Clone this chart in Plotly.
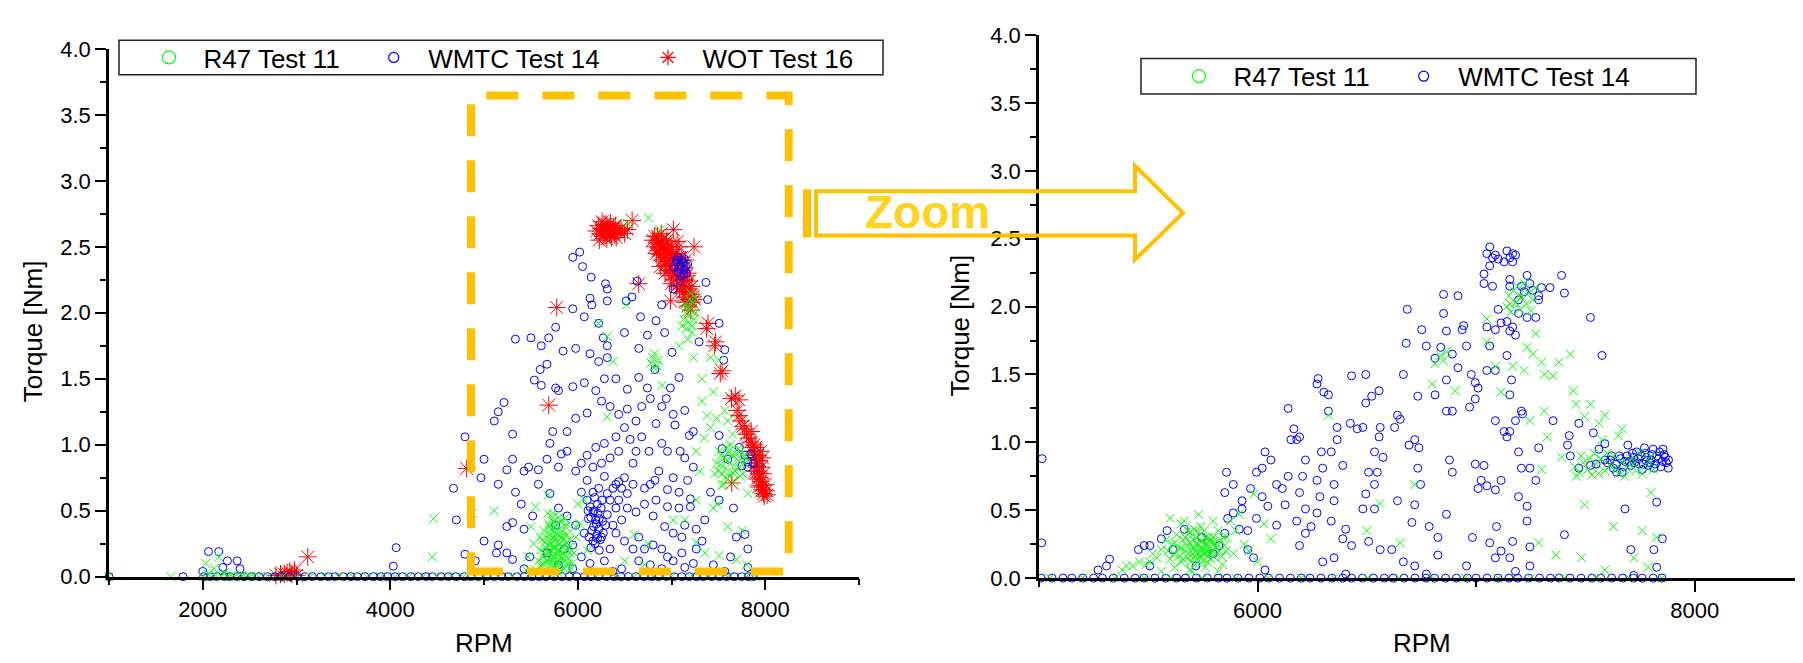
import plotly.graph_objects as go

W, H = 1803, 663
FONT = "Liberation Sans, Arial, sans-serif"

# ---------------- data: (RPM, Torque [Nm]) ----------------
left_wot = [
    (2780, 0.01), (2830, 0.02), (2870, 0.02), (2900, 0.03), (2930, 0.04), (2950, 0.02), (2980, 0.05), (3000, 0.01),
    (3120, 0.15), (4815, 0.82), (5690, 1.30), (5776, 2.04),
    (6200, 2.62), (6220, 2.66), (6240, 2.60), (6250, 2.64), (6270, 2.58), (6280, 2.67), (6300, 2.62), (6310, 2.56),
    (6320, 2.65), (6340, 2.60), (6350, 2.68), (6360, 2.57), (6370, 2.63), (6390, 2.59), (6400, 2.66), (6420, 2.61),
    (6230, 2.55), (6260, 2.69), (6290, 2.59), (6330, 2.63), (6380, 2.65), (6410, 2.57), (6440, 2.62), (6460, 2.64),
    (6300, 2.67), (6350, 2.61), (6270, 2.63), (6500, 2.60), (6530, 2.63), (6580, 2.70), (6650, 2.22),
    (6800, 2.55), (6820, 2.50), (6840, 2.53), (6860, 2.47), (6870, 2.52), (6880, 2.44), (6900, 2.49), (6910, 2.56),
    (6920, 2.42), (6930, 2.47), (6940, 2.52), (6950, 2.39), (6960, 2.45), (6970, 2.50), (6980, 2.36), (6990, 2.42),
    (7000, 2.48), (7010, 2.33), (7020, 2.63), (7030, 2.40), (7040, 2.30), (7050, 2.45), (7060, 2.27), (7070, 2.36),
    (7080, 2.50), (7090, 2.24), (7100, 2.32), (7110, 2.20), (7120, 2.28), (7130, 2.16), (7140, 2.25), (7150, 2.12),
    (7160, 2.20), (7170, 2.30), (7180, 2.10), (7190, 2.18), (7200, 2.14), (7220, 2.08), (6990, 2.09), (6850, 2.58),
    (6890, 2.60), (7060, 2.54), (7110, 2.42), (7240, 2.50), (7150, 2.40), (6950, 2.55), (7250, 2.10),
    (6820, 2.58), (6840, 2.45), (6860, 2.55), (6880, 2.50), (6900, 2.40), (6920, 2.52), (6935, 2.36), (6950, 2.48),
    (6965, 2.32), (6980, 2.46), (6995, 2.28), (7010, 2.44), (7025, 2.25), (7040, 2.40), (7055, 2.20), (7070, 2.42),
    (7085, 2.18), (7100, 2.38), (7115, 2.15), (7130, 2.34), (7145, 2.08), (7160, 2.28), (7175, 2.05), (7190, 2.24),
    (7205, 2.02), (7215, 2.20), (7230, 2.12), (6880, 2.35), (6930, 2.30), (7000, 2.22),
    (7374, 1.88), (7390, 1.92), (7460, 1.75), (7470, 1.78), (7520, 1.54), (7540, 1.56), (7640, 1.35), (7680, 1.37),
    (7720, 1.34), (7700, 1.26), (7720, 1.22), (7740, 1.18), (7760, 1.14), (7780, 1.12), (7800, 1.08), (7820, 1.05),
    (7840, 1.02), (7860, 0.98), (7870, 0.95), (7880, 0.92), (7890, 0.90), (7900, 0.86), (7910, 0.83), (7920, 0.80),
    (7930, 0.78), (7940, 0.75), (7950, 0.72), (7960, 0.69), (7970, 0.66), (7980, 0.63), (7990, 0.61), (7900, 0.98),
    (7920, 0.92), (7940, 0.88), (7960, 0.83), (7950, 0.95), (7980, 0.78), (8000, 0.70), (8010, 0.65), (7930, 0.68),
    (7910, 0.74), (7890, 0.80), (7970, 0.90), (8020, 0.62), (7850, 1.10), (7880, 1.00), (7643, 0.71),
]

left_wmtc = [
    (2000, 0.04), (2061, 0.19), (2171, 0.19), (2214, 0.07), (2263, 0.12), (2367, 0.12), (2398, 0.06), (4032, 0.08),
    (4063, 0.22), (4675, 0.67), (4705, 0.43), (4797, 1.06), (4797, 0.17),
    (5947, 2.42), (6021, 2.46), (6051, 2.35), (6143, 2.27), (6296, 2.22), (6315, 2.18), (6131, 2.11), (6150, 2.06),
    (5947, 2.03), (6070, 1.97), (6223, 1.92), (6315, 2.09), (6517, 2.09), (6578, 2.12), (6633, 2.24), (6670, 1.97),
    (6498, 1.85), (6272, 1.81), (6315, 1.75), (6223, 1.63), (6315, 1.66), (6131, 1.69), (5978, 1.73), (5844, 1.71),
    (5764, 1.89), (5690, 1.81), (5501, 1.81), (5335, 1.80), (5611, 1.75), (5672, 1.61), (5599, 1.57), (5537, 1.49),
    (5611, 1.45), (5764, 1.43), (5794, 1.41), (5947, 1.44), (6070, 1.47), (6192, 1.41), (6284, 1.50), (6407, 1.50),
    (6529, 1.42), (6651, 1.51), (6743, 1.43), (6774, 1.35), (6823, 1.57), (6651, 1.73), (6743, 1.83), (6835, 1.94),
    (6896, 2.06), (6927, 1.85), (7006, 1.70), (7080, 1.51), (6988, 1.43), (6945, 1.35), (7141, 1.26), (7037, 1.15),
    (7190, 1.07), (7092, 0.95), (7233, 1.10), (7294, 1.78), (7367, 2.23), (7386, 2.10), (7508, 1.92), (7557, 1.64),
    (7569, 1.72), (7508, 1.07), (7539, 0.97), (7600, 0.89), (7141, 0.90), (7233, 0.83), (7172, 0.73), (7018, 0.75),
    (6957, 0.66), (7080, 0.64), (7202, 0.53), (7141, 0.39), (7018, 0.33), (6927, 0.38), (6804, 0.46), (6865, 0.80),
    (6774, 0.70), (6682, 1.06), (6621, 1.18), (6529, 1.27), (6437, 1.23), (6345, 1.29), (6254, 1.33), (6100, 1.24),
    (5978, 1.20), (5886, 1.10), (5733, 1.10), (5703, 1.01), (5825, 0.93), (5672, 0.89), (5580, 0.81), (5427, 0.80),
    (5305, 0.89), (5244, 0.81), (5152, 0.70), (5000, 0.89), (4968, 0.75), (5109, 1.18), (5213, 1.32), (5152, 1.25),
    (5305, 1.08), (5476, 0.83), (5397, 0.55), (5305, 0.41), (5244, 0.38), (5152, 0.24), (5000, 0.27), (4907, 0.12),
    (5133, 0.18), (5244, 0.18), (5305, 0.13), (5427, 0.06), (5580, 0.70), (5703, 0.63), (5794, 0.52),
    (5978, 0.80), (6039, 0.86), (6100, 0.73), (6162, 0.83), (6223, 0.67), (6284, 0.76), (6345, 0.58), (6407, 0.70),
    (6468, 0.67), (6529, 0.63), (6590, 0.70), (6039, 0.64), (6100, 0.58), (6162, 0.49), (6192, 0.43), (6223, 0.36),
    (6254, 0.30), (6162, 0.27), (6070, 0.33), (5978, 0.39), (5947, 0.24), (5856, 0.21), (6039, 0.15), (6131, 0.10),
    (6284, 0.12), (6345, 0.21), (6407, 0.33), (6468, 0.43), (6529, 0.52), (6621, 0.49), (6712, 0.55), (6498, 0.27),
    (6590, 0.21), (6651, 0.12), (6774, 0.09), (6896, 0.21), (7018, 0.12), (7110, 0.18), (7233, 0.10), (7325, 0.27),
    (7264, 0.21), (6100, 0.92), (6192, 0.98), (6284, 1.01), (6407, 1.06), (6498, 1.13), (6559, 1.04), (6621, 0.95),
    (6437, 0.95), (6345, 0.90), (6254, 0.86), (6162, 0.64), (6211, 0.55), (6315, 0.47), (6376, 0.39), (6407, 0.52),
    (6437, 0.58), (6131, 0.53), (6168, 0.38), (6229, 0.44), (6272, 0.33), (6211, 0.29), (6296, 0.39), (6113, 0.44),
    (6315, 0.63), (6376, 0.67), (6437, 0.72), (6498, 0.75),
    (6120, 0.30), (6140, 0.45), (6150, 0.35), (6175, 0.50), (6185, 0.25), (6200, 0.40), (6215, 0.48), (6240, 0.28),
    (6250, 0.52), (6265, 0.42), (6180, 0.60), (6140, 0.22), (6230, 0.20), (6260, 0.58), (6110, 0.50), (6205, 0.32),
    (7049, 2.38), (7080, 2.35), (7110, 2.40), (7141, 2.33), (7067, 2.31), (7129, 2.29), (7031, 2.34), (7172, 2.37),
    (7092, 2.24), (7018, 2.18), (7055, 2.40), (7075, 2.42), (7095, 2.36), (7120, 2.38), (7150, 2.35), (7160, 2.30),
    (7100, 2.28), (7135, 2.41),
    (7783, 0.92), (7814, 0.87), (7845, 0.93), (7752, 0.84), (7875, 0.86), (7722, 0.98), (7814, 0.83),
    (7661, 0.52), (7692, 0.30), (7783, 0.32), (7814, 0.21), (7630, 0.15), (7447, 0.09), (7355, 0.43), (7416, 0.64),
    (7508, 0.58), (7263, 0.36), (7202, 0.59), (6957, 0.53), (6835, 0.58), (6712, 0.67), (6651, 0.30), (6804, 0.24),
    (6957, 0.15), (7110, 0.30), (6712, 0.21), (5794, 0.09), (5672, 0.18), (5488, 0.15), (5947, 0.06), (6376, 0.04),
    (6468, 0.06), (6896, 0.06), (7141, 0.07), (7569, 0.04), (7814, 0.07),
    (6682, 1.29), (6835, 1.16), (6896, 1.01), (6761, 0.95), (6957, 0.95), (7018, 1.23), (6896, 1.29), (7080, 0.52),
    (6823, 0.73), (6590, 0.86), (5794, 0.83), (5886, 0.95), (5764, 0.39), (5886, 0.46), (5427, 0.36), (5519, 0.46),
    (5336, 0.64),
    (1000, 0.0), (1790, 0.0), (2010, 0.0), (2080, 0.0), (2150, 0.0), (2230, 0.0), (2290, 0.0), (2370, 0.0),
    (2440, 0.0), (2520, 0.0), (2600, 0.0), (2690, 0.0), (2770, 0.0), (2840, 0.0), (2930, 0.0), (3010, 0.0),
    (3090, 0.0), (3170, 0.0), (3260, 0.0), (3340, 0.0), (3410, 0.0), (3500, 0.0), (3580, 0.0), (3650, 0.0),
    (3730, 0.0), (3820, 0.0), (3900, 0.0), (3970, 0.0), (4050, 0.0), (4130, 0.0), (4220, 0.0), (4300, 0.0),
    (4380, 0.0), (4450, 0.0), (4540, 0.0), (4620, 0.0), (4700, 0.0), (4790, 0.0), (4860, 0.0), (4940, 0.0),
    (5030, 0.0), (5110, 0.0), (5190, 0.0), (5260, 0.0), (5350, 0.0), (5430, 0.0), (5510, 0.0), (5590, 0.0),
    (5660, 0.0), (5750, 0.0), (5830, 0.0), (5910, 0.0), (5990, 0.0), (6070, 0.0), (6140, 0.0), (6220, 0.0),
    (6310, 0.0), (6390, 0.0), (6460, 0.0), (6540, 0.0), (6620, 0.0), (6710, 0.0), (6790, 0.0), (6860, 0.0),
    (6950, 0.0), (7030, 0.0), (7110, 0.0), (7190, 0.0), (7270, 0.0), (7340, 0.0), (7430, 0.0), (7510, 0.0),
    (7590, 0.0), (7670, 0.0), (7750, 0.0), (7820, 0.0), (7870, 0.0),
]

left_r47 = [
    (1000, 0.0), (1660, 0.0), (2000, 0.0), (2031, 0.10), (2171, 0.15), (2122, 0.06), (2060, 0.02), (2090, 0.0),
    (2140, 0.01), (2200, 0.0), (2230, 0.03), (2260, 0.0), (2300, 0.01), (2340, 0.0), (2380, 0.0), (2420, 0.01),
    (2460, 0.0), (2500, 0.0), (2540, 0.0), (2600, 0.0), (2700, 0.0), (2850, 0.0), (3000, 0.0), (3150, 0.0),
    (3300, 0.0), (3450, 0.0), (3600, 0.0), (3750, 0.0), (3900, 0.0), (4050, 0.0), (4200, 0.0), (4350, 0.0),
    (4460, 0.44), (4448, 0.15), (4500, 0.0), (4650, 0.0), (4780, 0.0), (4876, 0.48), (4900, 0.0), (5000, 0.0),
    (5109, 0.50), (5150, 0.0), (5300, 0.0), (5450, 0.05), (5500, 0.0),
    (5560, 0.05), (5580, 0.12), (5600, 0.20), (5610, 0.08), (5620, 0.28), (5630, 0.15), (5640, 0.35), (5650, 0.05),
    (5660, 0.22), (5670, 0.30), (5680, 0.12), (5690, 0.40), (5700, 0.18), (5710, 0.25), (5720, 0.08), (5730, 0.33),
    (5740, 0.15), (5750, 0.22), (5760, 0.28), (5770, 0.10), (5780, 0.20), (5790, 0.35), (5800, 0.16), (5810, 0.25),
    (5820, 0.05), (5830, 0.30), (5840, 0.18), (5850, 0.12), (5860, 0.24), (5870, 0.38), (5880, 0.08), (5890, 0.20),
    (5900, 0.14), (5920, 0.28), (5940, 0.10), (5960, 0.18), (5710, 0.02), (5750, 0.04), (5790, 0.03), (5650, 0.26),
    (5700, 0.32), (5760, 0.38), (5820, 0.42), (5730, 0.45), (5680, 0.48), (5684, 0.62), (5550, 0.53), (5733, 0.48),
    (5500, 0.38), (5530, 0.25), (5470, 0.15), (5980, 0.30), (6000, 0.55), (6020, 0.40),
    (5660, 0.10), (5675, 0.18), (5690, 0.14), (5705, 0.28), (5715, 0.36), (5725, 0.12), (5735, 0.22), (5745, 0.30),
    (5755, 0.08), (5765, 0.16), (5775, 0.26), (5785, 0.32), (5795, 0.12), (5805, 0.20), (5815, 0.30), (5825, 0.15),
    (5835, 0.22), (5845, 0.28), (5855, 0.06), (5865, 0.16), (5875, 0.26), (5885, 0.32), (5895, 0.10), (5905, 0.22),
    (5915, 0.18), (5700, 0.38), (5740, 0.42), (5780, 0.40), (5800, 0.45), (5720, 0.20), (5760, 0.22), (5800, 0.10),
    (5840, 0.34), (5680, 0.24), (5640, 0.18), (5620, 0.10), (5600, 0.30), (5860, 0.44), (5880, 0.40), (5930, 0.06),
    (6070, 0.58), (5978, 0.38), (6100, 0.20), (6200, 0.0), (6223, 1.92), (6315, 1.82), (6376, 1.63), (6315, 1.21),
    (6517, 2.06), (6529, 2.68), (6755, 2.72), (6878, 2.63), (6780, 1.62), (6800, 1.66), (6820, 1.69), (6840, 1.60),
    (6860, 1.64), (6830, 1.57), (6900, 1.45), (6712, 0.09), (6750, 0.25), (6600, 0.32), (6500, 0.12), (6400, 0.0),
    (6600, 0.0), (6800, 0.0), (7000, 0.0),
    (7110, 1.90), (7130, 1.95), (7150, 2.00), (7160, 1.88), (7170, 2.05), (7180, 1.93), (7190, 2.10), (7200, 1.98),
    (7210, 2.03), (7220, 1.90), (7230, 2.08), (7240, 1.95), (7250, 2.12), (7260, 2.00), (7140, 2.06), (7200, 2.15),
    (7175, 1.80), (7220, 1.85),
    (7080, 1.75), (7233, 1.66), (7325, 1.50), (7416, 1.66), (7508, 1.64), (7447, 1.40), (7325, 1.33), (7416, 1.13),
    (7569, 1.26), (7508, 0.95), (7263, 0.95), (7539, 0.69), (7447, 0.52), (7263, 0.58), (7018, 0.43), (7141, 0.43),
    (7380, 1.22), (7480, 1.20), (7600, 1.18), (7650, 1.08), (7350, 1.05), (7300, 0.80),
    (7500, 0.80), (7520, 0.85), (7540, 0.78), (7560, 0.90), (7580, 0.82), (7600, 0.88), (7620, 0.76), (7640, 0.92),
    (7660, 0.84), (7680, 0.80), (7700, 0.89), (7720, 0.83), (7740, 0.95), (7760, 0.78), (7780, 0.86), (7800, 0.90),
    (7530, 0.92), (7570, 0.75), (7610, 0.95), (7650, 0.79), (7690, 0.93), (7730, 0.76), (7770, 0.91), (7550, 0.70),
    (7590, 0.98), (7630, 1.00), (7670, 0.72), (7710, 0.97), (7480, 0.86), (7460, 0.78),
    (7814, 0.63), (7490, 0.55), (7600, 0.38), (7753, 0.35), (7692, 0.13), (7800, 0.09), (7263, 0.26), (7355, 0.18),
    (7508, 0.16), (7200, 0.0), (7400, 0.0), (7600, 0.0), (7800, 0.0), (7900, 0.0),
]

right_wmtc = [
    (7062, 2.44), (7049, 2.39), (7075, 2.36), (7088, 2.38), (7101, 2.35), (7141, 2.41), (7154, 2.36), (7167, 2.39),
    (7180, 2.38), (7128, 2.33), (7167, 2.33), (7062, 2.30), (7036, 2.24), (7036, 2.17), (7075, 2.15), (7154, 2.20),
    (7154, 2.15), (7233, 2.23), (7207, 2.15), (7246, 2.17), (7220, 2.11), (7259, 2.12), (7286, 2.08), (7299, 2.14),
    (7338, 2.14), (7391, 2.23), (7404, 2.10), (7286, 2.05), (7194, 2.05), (7101, 1.98), (7141, 1.89), (7114, 1.88),
    (7167, 1.85), (7088, 1.83), (7154, 1.82), (7180, 1.79), (7233, 1.92), (7273, 1.92), (7194, 1.95), (7049, 1.85),
    (7062, 1.71), (7088, 1.53), (7049, 1.53), (7141, 1.64), (7162, 1.46), (7154, 1.35), (7207, 1.23), (7212, 1.21),
    (7088, 1.16), (7128, 1.08), (7154, 1.08), (7141, 1.04), (7180, 1.16), (7194, 0.93), (7207, 0.81), (7246, 0.81),
    (7286, 0.96), (7273, 0.72), (7352, 1.16), (7523, 1.92), (7576, 1.64), (7426, 1.05), (7418, 0.98), (7470, 1.14),
    (7536, 1.07), (7562, 0.95), (7589, 0.99), (7431, 0.90), (7470, 0.81), (7523, 0.83),
    (7615, 0.87), (7655, 0.90), (7681, 0.86), (7721, 0.89), (7747, 0.84), (7773, 0.92), (7800, 0.87), (7826, 0.90),
    (7852, 0.86), (7865, 0.89), (7879, 0.81), (7839, 0.93), (7787, 0.83), (7708, 0.83), (7668, 0.78), (7628, 0.81),
    (7589, 0.87), (7549, 0.84), (7734, 0.93), (7694, 0.98), (7642, 0.78), (7760, 0.80), (7813, 0.81), (7681, 0.51),
    (7826, 0.56), (7852, 0.29), (7708, 0.21), (7813, 0.21), (7826, 0.08), (7721, 0.02),
    (7600, 0.85), (7620, 0.90), (7640, 0.84), (7660, 0.88), (7675, 0.82), (7690, 0.90), (7700, 0.86), (7715, 0.92),
    (7725, 0.85), (7740, 0.88), (7755, 0.90), (7765, 0.84), (7780, 0.89), (7795, 0.85), (7805, 0.91), (7820, 0.84),
    (7835, 0.88), (7845, 0.82), (7860, 0.91), (7870, 0.85), (7880, 0.87), (7855, 0.95), (7810, 0.95), (7770, 0.96),
    (5014, 0.88), (5012, 0.26), (5270, 0.06), (5323, 0.14), (5309, 0.09), (5455, 0.21), (5481, 0.24), (5507, 0.24),
    (5560, 0.29), (5586, 0.35), (5613, 0.21), (5507, 0.09), (5665, 0.36), (5744, 0.30), (5823, 0.24), (5797, 0.18),
    (5850, 0.33), (5863, 0.44), (5889, 0.48), (5929, 0.51), (5916, 0.36), (5955, 0.21), (5982, 0.15), (5955, 0.35),
    (5850, 0.63), (5858, 0.78), (5889, 0.69), (5929, 0.57), (5968, 0.66), (5995, 0.78), (6021, 0.81), (6034, 0.93),
    (6061, 0.87), (6087, 0.69), (6021, 0.60), (6047, 0.53), (5995, 0.44), (6087, 0.39), (6126, 0.54), (6113, 0.66),
    (6140, 0.75), (6153, 1.02), (6140, 1.25), (6166, 1.10), (6179, 1.02), (6192, 1.04), (6219, 0.87), (6206, 0.75),
    (6192, 0.63), (6219, 0.51), (6179, 0.42), (6219, 0.33), (6192, 0.24), (6245, 0.38), (6272, 0.48), (6285, 0.60),
    (6272, 0.72), (6298, 0.81), (6292, 0.93), (6272, 1.43), (6277, 1.47), (6303, 1.37), (6324, 1.35), (6324, 1.23),
    (6364, 1.11), (6337, 0.93), (6364, 1.02), (6390, 0.83), (6350, 0.69), (6350, 0.57), (6337, 0.42), (6403, 0.36),
    (6390, 0.29), (6430, 0.24), (6430, 1.49), (6495, 1.50), (6424, 1.14), (6456, 1.10), (6495, 1.29), (6522, 1.34),
    (6482, 1.11), (6535, 0.93), (6508, 0.78), (6535, 0.69), (6495, 0.62), (6482, 0.51), (6535, 0.51), (6548, 0.78),
    (6561, 1.11), (6556, 1.04), (6556, 1.38), (6574, 0.89), (6508, 0.27), (6561, 0.21), (6614, 0.21), (6640, 0.57),
    (6627, 1.11), (6640, 1.20), (6653, 1.17), (6667, 1.50), (6680, 1.73), (6685, 1.98), (6751, 1.83), (6772, 1.71),
    (6812, 1.62), (6838, 1.70), (6851, 2.09), (6851, 1.95), (6864, 1.82), (6891, 1.65), (6917, 2.08), (6943, 1.86),
    (6936, 1.83), (6956, 1.71), (6917, 1.55), (6864, 1.46), (6812, 1.35), (6864, 1.23), (6891, 1.23), (6970, 1.26),
    (6996, 1.32), (6996, 1.44), (7009, 1.40), (6978, 1.50), (6733, 1.34), (6719, 1.02), (6693, 0.98), (6738, 0.96),
    (6733, 0.81), (6746, 0.69), (6719, 0.54), (6706, 0.41), (6785, 0.38), (6825, 0.30), (6864, 0.47), (6891, 0.78),
    (6878, 0.87), (6996, 0.84), (7036, 0.83), (7023, 0.72), (7009, 0.66), (7049, 0.68), (7088, 0.65), (7114, 0.72),
    (7093, 0.38), (7062, 0.26), (7088, 0.15), (7114, 0.20), (7154, 0.15), (7167, 0.27), (7246, 0.23), (7233, 0.42),
    (7233, 0.53), (7194, 0.60), (7404, 0.32), (6983, 0.30), (6956, 0.09), (6772, 0.03), (6825, 0.17), (6667, 0.12),
    (6719, 0.09), (6350, 0.15), (6298, 0.12), (6403, 0.03), (7180, 0.05), (7246, 0.09), (6034, 0.06), (5718, 0.09),
    (5010, 0.0), (5060, 0.0), (5110, 0.0), (5150, 0.0), (5200, 0.0), (5250, 0.0), (5290, 0.0), (5340, 0.0),
    (5390, 0.0), (5440, 0.0), (5480, 0.0), (5530, 0.0), (5580, 0.0), (5630, 0.0), (5670, 0.0), (5720, 0.0),
    (5770, 0.0), (5820, 0.0), (5860, 0.0), (5910, 0.0), (5960, 0.0), (6010, 0.0), (6050, 0.0), (6100, 0.0),
    (6150, 0.0), (6200, 0.0), (6240, 0.0), (6290, 0.0), (6340, 0.0), (6390, 0.0), (6430, 0.0), (6480, 0.0),
    (6530, 0.0), (6580, 0.0), (6620, 0.0), (6670, 0.0), (6720, 0.0), (6770, 0.0), (6810, 0.0), (6860, 0.0),
    (6910, 0.0), (6960, 0.0), (7000, 0.0), (7050, 0.0), (7100, 0.0), (7150, 0.0), (7190, 0.0), (7240, 0.0),
    (7290, 0.0), (7340, 0.0), (7380, 0.0), (7430, 0.0), (7480, 0.0), (7530, 0.0), (7570, 0.0), (7620, 0.0),
    (7670, 0.0), (7720, 0.0), (7760, 0.0), (7810, 0.0), (7850, 0.0),
]

right_r47 = [
    (5050, 0.0), (5200, 0.0), (5350, 0.0), (5480, 0.0), (5600, 0.0), (5750, 0.0), (5900, 0.0), (6050, 0.0),
    (6200, 0.0), (6350, 0.0), (6500, 0.0), (6650, 0.0), (6800, 0.0), (6950, 0.0), (7100, 0.0), (7250, 0.0),
    (7400, 0.0), (7550, 0.0), (7700, 0.0), (7850, 0.0),
    (5380, 0.06), (5400, 0.09), (5428, 0.09), (5460, 0.12), (5490, 0.10), (5507, 0.12), (5520, 0.18), (5540, 0.15),
    (5560, 0.21), (5580, 0.28), (5600, 0.44), (5610, 0.25), (5620, 0.18), (5630, 0.32), (5640, 0.22), (5650, 0.12),
    (5660, 0.28), (5665, 0.42), (5670, 0.20), (5680, 0.15), (5690, 0.26), (5700, 0.32), (5705, 0.18), (5710, 0.22),
    (5715, 0.10), (5720, 0.25), (5725, 0.30), (5730, 0.47), (5735, 0.20), (5740, 0.15), (5745, 0.27), (5750, 0.22),
    (5755, 0.35), (5760, 0.18), (5765, 0.24), (5770, 0.12), (5775, 0.30), (5780, 0.20), (5790, 0.26), (5797, 0.42),
    (5800, 0.16), (5810, 0.22), (5820, 0.35), (5830, 0.28), (5840, 0.10), (5850, 0.24), (5860, 0.30), (5876, 0.42),
    (5890, 0.18), (5900, 0.35), (5916, 0.47), (5940, 0.25), (5960, 0.20), (5982, 0.62), (6000, 0.12), (6061, 0.29),
    (6030, 0.40), (5560, 0.05), (5620, 0.08), (5690, 0.06), (5760, 0.08), (5820, 0.05), (5680, 0.35), (5740, 0.38),
    (5650, 0.40), (5700, 0.05),
    (5640, 0.16), (5650, 0.22), (5660, 0.14), (5670, 0.30), (5675, 0.24), (5685, 0.18), (5690, 0.34), (5695, 0.12),
    (5700, 0.22), (5710, 0.28), (5712, 0.16), (5718, 0.20), (5722, 0.14), (5728, 0.24), (5732, 0.18), (5738, 0.28),
    (5742, 0.22), (5748, 0.12), (5752, 0.18), (5758, 0.26), (5762, 0.30), (5768, 0.20), (5772, 0.16), (5778, 0.24),
    (5782, 0.28), (5788, 0.14), (5792, 0.20), (5798, 0.30), (5805, 0.26), (5812, 0.18), (5818, 0.24), (5825, 0.20),
    (5835, 0.16), (5845, 0.30), (5855, 0.20), (5620, 0.26), (5600, 0.14), (5590, 0.20), (5730, 0.34), (5710, 0.36),
    (6324, 1.20), (6653, 0.26), (6719, 0.69), (6799, 1.43), (6812, 1.58), (6838, 1.64), (6864, 1.67), (6850, 1.60),
    (6904, 1.38), (6560, 0.55), (6500, 0.35),
    (7049, 1.91), (7049, 1.74), (7088, 1.56), (7114, 1.37), (7167, 1.56),
    (7140, 2.00), (7150, 2.08), (7160, 1.96), (7170, 2.12), (7180, 2.03), (7190, 2.15), (7200, 1.98), (7210, 2.07),
    (7220, 2.17), (7230, 2.02), (7240, 2.10), (7250, 1.97), (7260, 2.05), (7270, 2.14), (7155, 2.02), (7195, 2.08),
    (7273, 1.80), (7233, 1.70), (7259, 1.65), (7220, 1.53), (7299, 1.59), (7312, 1.50), (7352, 1.49), (7378, 1.59),
    (7431, 1.65), (7444, 1.38), (7312, 1.23), (7246, 1.16), (7325, 1.04), (7391, 0.89), (7457, 1.28), (7496, 1.19),
    (7523, 1.28), (7562, 1.14), (7589, 1.20), (7668, 1.10), (7576, 1.02), (7496, 0.54), (7628, 0.38), (7721, 0.15),
    (7760, 0.35), (7800, 0.63), (7826, 0.30), (7483, 0.15), (7365, 0.17), (7286, 0.26), (7589, 0.06), (7787, 0.08),
    (7300, 0.80), (7650, 1.05),
    (7450, 0.82), (7470, 0.78), (7490, 0.85), (7510, 0.80), (7530, 0.76), (7550, 0.84), (7570, 0.88), (7590, 0.79),
    (7610, 0.83), (7630, 0.90), (7650, 0.77), (7670, 0.86), (7690, 0.81), (7710, 0.88), (7730, 0.79), (7750, 0.92),
    (7770, 0.83), (7790, 0.86), (7810, 0.80), (7480, 0.90), (7520, 0.88), (7560, 0.77), (7600, 0.92), (7640, 0.81),
    (7680, 0.75), (7720, 0.84), (7760, 0.77), (7800, 0.90), (7460, 0.75), (7540, 0.92),
]

legend_left = ["R47 Test 11", "WMTC Test 14", "WOT Test 16"]
legend_right = ["R47 Test 11", "WMTC Test 14"]
x_title = "RPM"
y_title = "Torque [Nm]"
zoom_label = "Zoom"

# ---------------- styles ----------------
GREEN, BLUE, RED = "#00FF00", "#0000FF", "#FF0000"
GOLD, ZOOMTXT = "#FFC000", "#FFD320"
NBSP = "\u00a0"


def xy(pairs):
    return [p[0] for p in pairs], [p[1] for p in pairs]


def px(x):
    return x / W


def py(y):
    return 1 - y / H


fig = go.Figure()

mk_wot = dict(symbol="asterisk-open", size=15, color=RED, line=dict(width=1, color=RED))
mk_wmtc = dict(symbol="circle-open", size=8, color=BLUE, line=dict(width=1, color=BLUE))
mk_r47 = dict(symbol="x-thin-open", size=9, color=GREEN, line=dict(width=1, color=GREEN))

for pairs, mk, xa, ya in [
    (left_wot, mk_wot, "x", "y"),
    (left_wmtc, mk_wmtc, "x", "y"),
    (left_r47, mk_r47, "x", "y"),
    (right_wmtc, mk_wmtc, "x2", "y2"),
    (right_r47, mk_r47, "x2", "y2"),
]:
    xs, ys = xy(pairs)
    fig.add_trace(go.Scatter(x=xs, y=ys, mode="markers", marker=mk, xaxis=xa, yaxis=ya,
                             showlegend=False, cliponaxis=False, hoverinfo="skip"))

# legend entries
leg_mk = [
    dict(symbol="circle-open", size=13, color=GREEN, line=dict(width=1.2, color=GREEN)),
    dict(symbol="circle-open", size=10, color=BLUE, line=dict(width=1.2, color=BLUE)),
    dict(symbol="asterisk-open", size=13, color=RED, line=dict(width=1.2, color=RED)),
]
pads_left = [4, 6, 0]
for name, mk, pad in zip(legend_left, leg_mk, pads_left):
    fig.add_trace(go.Scatter(x=[None], y=[None], mode="markers", marker=mk, xaxis="x", yaxis="y",
                             name=NBSP * 2 + name + NBSP * pad, legend="legend"))
pads_right = [4, 0]
for name, mk, pad in zip(legend_right, leg_mk[:2], pads_right):
    fig.add_trace(go.Scatter(x=[None], y=[None], mode="markers", marker=mk, xaxis="x2", yaxis="y2",
                             name=NBSP * 2 + name + NBSP * pad, legend="legend2"))

axis_common = dict(showline=True, linecolor="black", linewidth=2.5, showgrid=False, zeroline=False,
                   ticks="outside", ticklen=11, tickwidth=2, tickcolor="black",
                   tickfont=dict(family=FONT, size=22, color="black"))
minor_common = dict(ticks="outside", ticklen=6, tickwidth=2, tickcolor="black", showgrid=False)

fig.update_layout(
    width=W, height=H, margin=dict(l=0, r=0, t=0, b=0),
    paper_bgcolor="white", plot_bgcolor="white",
    font=dict(family=FONT, color="black"),
    xaxis=dict(domain=[px(101), px(851)], range=[1000, 9000], tick0=0, dtick=2000, anchor="y",
               minor=dict(dtick=1000, tick0=0, **minor_common), **axis_common),
    yaxis=dict(domain=[py(578.5), py(30)], range=[0, 4], tick0=0, dtick=0.5, tickformat=".1f", anchor="x",
               minor=dict(dtick=0.25, tick0=0, **minor_common), **axis_common),
    xaxis2=dict(domain=[px(1031), px(1796)], range=[5000, 8500], tick0=0, dtick=2000, anchor="y2",
                minor=dict(dtick=1000, tick0=0, **minor_common), **axis_common),
    yaxis2=dict(domain=[py(580), py(15.7)], range=[0, 4], tick0=0, dtick=0.5, tickformat=".1f", anchor="x2",
                minor=dict(dtick=0.25, tick0=0, **minor_common), **axis_common),
    legend=dict(x=px(141), y=py(39), xanchor="left", yanchor="middle", orientation="h",
                bgcolor="rgba(0,0,0,0)", borderwidth=0, font=dict(family=FONT, size=26, color="black")),
    legend2=dict(x=px(1171), y=py(58.5), xanchor="left", yanchor="middle", orientation="h",
                 bgcolor="rgba(0,0,0,0)", borderwidth=0, font=dict(family=FONT, size=26, color="black")),
    showlegend=True,
)

shapes = [
    # legend frames
    dict(type="rect", xref="paper", yref="paper", x0=px(111), x1=px(875), y0=py(57), y1=py(21),
         line=dict(color="#222222", width=1.5), fillcolor="white", layer="above"),
    dict(type="rect", xref="paper", yref="paper", x0=px(1133), x1=px(1688), y0=py(77), y1=py(40),
         line=dict(color="#222222", width=1.5), fillcolor="white", layer="above"),
    # dashed zoom region on the left chart
    dict(type="rect", xref="x", yref="y", x0=4861, x1=8250, y0=0.039, y1=3.646,
         line=dict(color=GOLD, width=8, dash="32px,24px"), layer="above"),
    # arrow outline
    dict(type="path", xref="paper", yref="paper",
         path=(f"M {px(808)},{py(178)} L {px(1127)},{py(178)} L {px(1127)},{py(151.5)} "
               f"L {px(1175)},{py(200.5)} L {px(1127)},{py(249)} L {px(1127)},{py(224)} "
               f"L {px(808)},{py(224)} Z"),
         line=dict(color=GOLD, width=4), layer="above"),
    dict(type="rect", xref="paper", yref="paper", x0=px(795), x1=px(803), y0=py(226), y1=py(176),
         line=dict(width=0), fillcolor=GOLD, layer="above"),
]

annotations = [
    dict(text=zoom_label, xref="paper", yref="paper", x=px(919), y=py(200), xanchor="center", yanchor="middle",
         showarrow=False, font=dict(family=FONT, size=46, color=ZOOMTXT, weight="bold")),
    dict(text=x_title, xref="paper", yref="paper", x=px(476), y=py(647.5), xanchor="center", yanchor="middle",
         showarrow=False, font=dict(family=FONT, size=26, color="black")),
    dict(text=x_title, xref="paper", yref="paper", x=px(1413.5), y=py(647.5), xanchor="center", yanchor="middle",
         showarrow=False, font=dict(family=FONT, size=26, color="black")),
    dict(text=y_title, xref="paper", yref="paper", x=px(24.4), y=py(323), xanchor="center", yanchor="middle",
         textangle=-90, showarrow=False, font=dict(family=FONT, size=26, color="black")),
    dict(text=y_title, xref="paper", yref="paper", x=px(952.4), y=py(317), xanchor="center", yanchor="middle",
         textangle=-90, showarrow=False, font=dict(family=FONT, size=26, color="black")),
]

fig.update_layout(shapes=shapes, annotations=annotations)
fig.write_html("out.html")
